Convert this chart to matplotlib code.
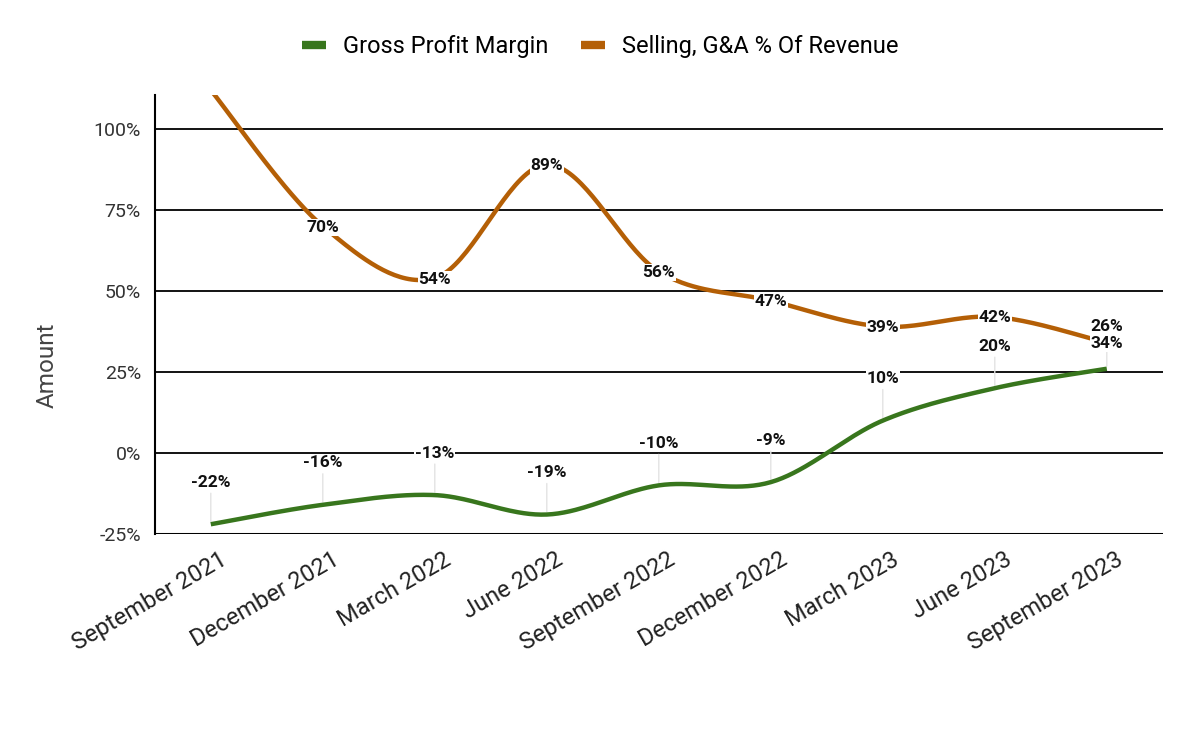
import numpy as np
import matplotlib
matplotlib.use("Agg")
import matplotlib.pyplot as plt
from matplotlib.ticker import FuncFormatter
import matplotlib.transforms as mtransforms

plt.rcParams['font.family'] = ['Roboto', 'DejaVu Sans']

quarters = ["September 2021", "December 2021", "March 2022", "June 2022",
            "September 2022", "December 2022", "March 2023", "June 2023",
            "September 2023"]
gross_margin = [-22, -16, -13, -19, -10, -9, 10, 20, 26]
sga_pct = [112, 70, 54, 89, 56, 47, 39, 42, 34]
y_ticks = [-25, 0, 25, 50, 75, 100]

GREEN = "#38761d"
ORANGE = "#b45f06"


def smooth(xs, ys, n=40):
    xs = np.asarray(xs, float)
    ys = np.asarray(ys, float)
    px = np.concatenate([[xs[0]], xs, [xs[-1]]])
    py = np.concatenate([[ys[0]], ys, [ys[-1]]])
    outx, outy = [], []
    t = np.linspace(0, 1, n)
    for i in range(1, len(px) - 2):
        p0 = np.array([px[i], py[i]])
        p3 = np.array([px[i + 1], py[i + 1]])
        c1 = p0 + (np.array([px[i + 1], py[i + 1]]) - np.array([px[i - 1], py[i - 1]])) / 6
        c2 = p3 - (np.array([px[i + 2], py[i + 2]]) - np.array([px[i], py[i]])) / 6
        b = ((1 - t) ** 3)[:, None] * p0 + (3 * (1 - t) ** 2 * t)[:, None] * c1 + \
            (3 * (1 - t) * t ** 2)[:, None] * c2 + (t ** 3)[:, None] * p3
        outx.extend(b[:, 0])
        outy.extend(b[:, 1])
    return np.array(outx), np.array(outy)


fig = plt.figure(figsize=(12, 7.41), dpi=100)
ax = fig.add_axes([0.129, 0.2794, 0.84, 0.5924])

x = np.arange(len(quarters))
ax.set_xlim(-0.5, len(quarters) - 0.5)
ax.set_ylim(-25, 110.5)

for yt in y_ticks:
    ax.axhline(yt, color="black", lw=2.2 if yt == -25 else 1.3, zorder=1)

for sp in ["top", "right", "bottom"]:
    ax.spines[sp].set_visible(False)
ax.spines["left"].set_color("black")
ax.spines["left"].set_linewidth(1.5)

sx, sy = smooth(x, gross_margin)
ax.plot(sx, sy, color=GREEN, lw=3.2, solid_capstyle="butt", zorder=3, label="Gross Profit Margin")
sx, sy = smooth(x, sga_pct)
ax.plot(sx, sy, color=ORANGE, lw=3.2, solid_capstyle="butt", zorder=3, label="Selling, G&A % Of Revenue")

LBL = 12.5

# data labels
for xi, v in zip(x, gross_margin):
    ax.annotate("", xy=(xi, v), xytext=(0, 31), textcoords="offset pixels",
                arrowprops=dict(arrowstyle="-", color="#e3e3e3", lw=1, shrinkA=0, shrinkB=2),
                zorder=2)
    ax.annotate(f"{v}%", xy=(xi, v), xytext=(0, 42), textcoords="offset pixels",
                ha="center", va="center", fontsize=LBL, fontweight="bold", color="#111",
                bbox=dict(boxstyle="square,pad=0.05", fc="white", ec="none"), zorder=5)

for xi, v in zip(x, sga_pct):
    if v > 110.5:
        continue
    ax.annotate(f"{v}%", xy=(xi, v), xytext=(0, -1), textcoords="offset pixels",
                ha="center", va="center", fontsize=LBL, fontweight="bold", color="#111",
                bbox=dict(boxstyle="square,pad=0.05", fc="white", ec="none"), zorder=5)

ax.set_yticks(y_ticks)
ax.yaxis.set_major_formatter(FuncFormatter(lambda v, p: f"{int(v)}%"))
ax.tick_params(axis="y", length=0, pad=10, labelsize=14, labelcolor="#333")
ax.set_xticks(x)
ax.set_xticklabels(quarters, rotation=30, ha="right", rotation_mode="anchor",
                   fontsize=17, color="#222")
ax.tick_params(axis="x", length=0, pad=10)
for lbl in ax.get_xticklabels():
    lbl.set_transform(lbl.get_transform() + mtransforms.ScaledTranslation(0.09, 0, fig.dpi_scale_trans))

fig.text(47 / 1200, 1 - 365 / 741, "Amount", rotation=90, ha="center", va="center",
         fontsize=17.5, color="#444")

leg = fig.legend(loc="center", bbox_to_anchor=(0.5, 1 - 47 / 741), ncol=2, frameon=False,
                 fontsize=17, handlelength=1.0, handletextpad=0.72, columnspacing=1.4)
for h in leg.get_lines():
    h.set_linewidth(6)

fig.savefig("out.png", dpi=100, facecolor="white")
